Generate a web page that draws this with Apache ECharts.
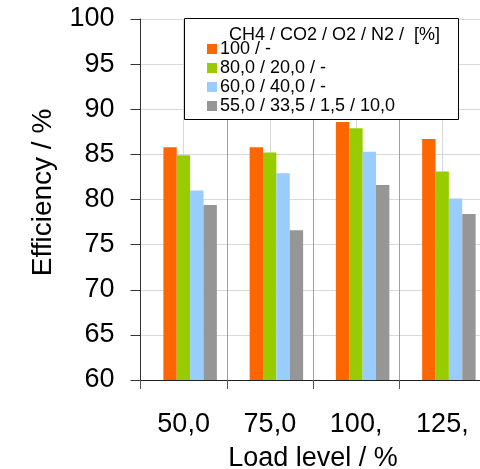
<!DOCTYPE html>
<html>
<head>
<meta charset="utf-8">
<script src="https://cdn.jsdelivr.net/npm/echarts@6/dist/echarts.min.js"></script>
<style>
  html, body { margin: 0; padding: 0; background: #fff; }
  #chart { width: 480px; height: 469px; }
</style>
</head>
<body>
<div id="chart"></div>
<script>
// load levels and gas mixtures
const loadLevels = ['50,0', '75,0', '100,', '125,']
const mixNames = ['100 / -', '80,0 / 20,0 / -', '60,0 / 40,0 / -', '55,0 / 33,5 / 1,5 / 10,0']
const mixColors = ['#FF6600', '#99CC00', '#99CCFF', '#969696']

// efficiency in % per mixture, one value per load level
const effMix1 = [85.8, 85.8, 88.6, 86.7]
const effMix2 = [84.9, 85.2, 87.9, 83.1]
const effMix3 = [81.0, 82.9, 85.3, 80.1]
const effMix4 = [79.4, 76.6, 81.6, 78.4]

const yMin = 60
const yMax = 100
const yStep = 5

const font = 'Liberation Sans, Arial, sans-serif'
const chart = echarts.init(document.getElementById('chart'))

const seriesData = [effMix1, effMix2, effMix3, effMix4]

const option = {
  animation: false,
  textStyle: { fontFamily: font },
  title: {
    text: 'CH4 / CO2 / O2 / N2 /  [%]',
    left: 224,
    top: 21,
    z: 6,
    textStyle: { fontFamily: font, fontSize: 18, fontWeight: 'normal', color: '#000' }
  },
  // legend frame (white box with black border)
  graphic: [{
    type: 'rect',
    left: 184,
    top: 18,
    z: 3,
    shape: { width: 274, height: 101 },
    style: { fill: '#fff', stroke: '#000', lineWidth: 1 }
  }],
  legend: {
    data: mixNames,
    orient: 'vertical',
    left: 184,
    top: 18,
    padding: [22, 10, 3, 23],
    itemWidth: 10,
    itemHeight: 10,
    itemGap: 1,
    icon: 'rect',
    z: 5,
    textStyle: { fontFamily: font, fontSize: 18, color: '#000', padding: [0, 0, 0, -2] }
  },
  grid: [
    { left: 140.5, top: 19, width: 345, height: 361, outerBoundsMode: 'none' },
    { left: 147, top: 19, width: 345, height: 361, outerBoundsMode: 'none' }
  ],
  xAxis: [
    {
      type: 'category',
      gridIndex: 0,
      data: loadLevels,
      name: 'Load level / %',
      nameLocation: 'middle',
      nameGap: 65,
      nameTextStyle: { fontFamily: font, fontSize: 27, color: '#000' },
      axisLine: { lineStyle: { color: '#222', width: 1 } },
      axisTick: { show: true, length: 9, lineStyle: { color: '#555' } },
      axisLabel: { fontFamily: font, fontSize: 27, color: '#000', margin: 31 },
      splitLine: { show: false }
    },
    {
      // half-category lines: boundaries darker, centres lighter
      type: 'value',
      gridIndex: 0,
      min: 0,
      max: loadLevels.length * 2,
      interval: 1,
      axisLine: { show: false },
      axisTick: { show: false },
      axisLabel: { show: false },
      splitLine: { show: true, lineStyle: { color: ['#a0a0a0', '#d9d9d9'], width: 1 } }
    },
    {
      type: 'category',
      gridIndex: 1,
      data: loadLevels,
      show: false
    }
  ],
  yAxis: [
    {
      type: 'value',
      gridIndex: 0,
      min: yMin,
      max: yMax,
      interval: yStep,
      name: 'Efficiency / %',
      nameLocation: 'middle',
      nameGap: 83,
      nameTextStyle: { fontFamily: font, fontSize: 28, color: '#000', padding: [0, 0, 0, 14] },
      axisLine: { show: true, lineStyle: { color: '#333', width: 1 } },
      axisTick: { show: true, length: 10, lineStyle: { color: '#333' } },
      axisLabel: { fontFamily: font, fontSize: 27, color: '#000', margin: 26 },
      splitLine: { show: true, lineStyle: { color: '#d9d9d9', width: 1 } }
    },
    {
      type: 'value',
      gridIndex: 1,
      min: yMin,
      max: yMax,
      interval: yStep,
      show: false
    }
  ],
  series: mixNames.map((name, i) => ({
    name,
    type: 'bar',
    xAxisIndex: 2,
    yAxisIndex: 1,
    data: seriesData[i],
    barGap: 0,
    barCategoryGap: '38%',
    itemStyle: { color: mixColors[i] }
  }))
}

chart.setOption(option)
</script>
</body>
</html>
